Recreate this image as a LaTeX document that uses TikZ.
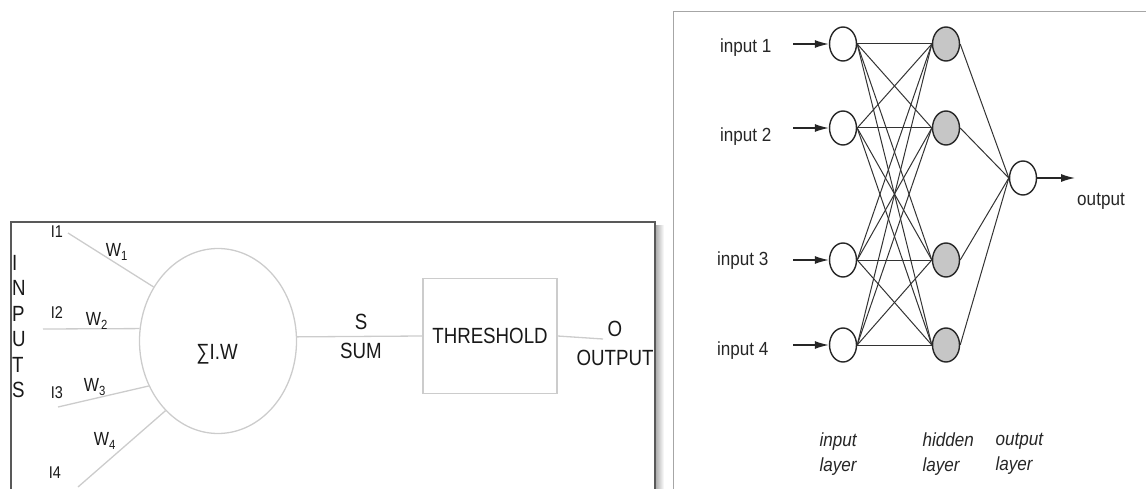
\documentclass[tikz,border=0pt]{standalone}
\usepackage{fontspec}
\setmainfont{Liberation Sans}
\newfontfamily\flatsans[FakeStretch=0.85]{Liberation Sans}
\newfontfamily\netsans[FakeStretch=0.9]{Liberation Sans}
\usetikzlibrary{arrows.meta, shapes.geometric}

\begin{document}
\begin{tikzpicture}[
	x=1pt, y=-1pt,
	faint/.style={draw=gray!40, line width=1.3pt},
	big/.style={font=\flatsans\fontsize{22}{29}\selectfont, text=black!90},
	small/.style={font=\flatsans\fontsize{17}{20}\selectfont, text=black!90},
	wlabel/.style={font=\flatsans\fontsize{19}{20}\selectfont, text=black!90},
	neuron/.style={
		draw=black!85,
		ellipse,
		line width=1.4pt,
		minimum width=27pt,
		minimum height=34pt,
		inner sep=0pt,
		fill=white
	},
	hid/.style={
		neuron,
		fill=gray!45
	},
	link/.style={draw=black!80, line width=1pt},
	feed/.style={draw=black!85, line width=1.3pt, -{Latex[length=14pt,width=8pt]}},
	net/.style={font=\netsans\fontsize{19}{22}\selectfont, text=black!85},
	layer/.style={font=\netsans\itshape\fontsize{19}{25}\selectfont, text=black!85, align=left, anchor=west}
	]
	\useasboundingbox (0,0) rectangle (1146,489);

	% single neuron: frame with drop shadow on the right
	\shade[left color=gray!70, right color=white] (655,226) rectangle (664,500);
	\draw[gray!70!black, line width=1.5pt] (11,500) |- (655,222) -- (655,500);

	% vertical INPUTS caption
	\node[font=\flatsans\fontsize{22}{25.5}\selectfont, text=black!90, align=left, anchor=north west, inner sep=0pt] (caption) at (12,255) {I\\N\\P\\U\\T\\S};

	% summing unit and threshold box
	\node[faint, ellipse, minimum width=157pt, minimum height=185pt, inner sep=0pt] (sum) at (218,341) {};
	\node[big] (sumtxt) at (217,354) {∑I.W};
	\node[faint, big, minimum width=134pt, minimum height=115pt] (thr) at (490,336) {THRESHOLD};

	% weighted inputs
	\node[small] (l1) at (57,232) {I1};
	\node[small] (l2) at (57,313) {I2};
	\node[small] (l3) at (57,393) {I3};
	\node[small] (l4) at (55,473) {I4};
	\coordinate (i1) at (68,233);
	\coordinate (i2) at (43,329);
	\coordinate (i3) at (58,407);
	\coordinate (i4) at (78,487);
	\draw[faint] (i1) -- (sum.140);
	\draw[faint] (i2) -- (sum.171);
	\draw[faint] (i3) -- (sum.213);
	\draw[faint] (i4) -- (sum.233);
	\node[wlabel] (w1) at (117,252) {W\textsubscript{1}};
	\node[wlabel] (w2) at (97,321) {W\textsubscript{2}};
	\node[wlabel] (w3) at (95,387) {W\textsubscript{3}};
	\node[wlabel] (w4) at (105,441) {W\textsubscript{4}};

	% sum -> threshold -> output
	\draw[faint] (sum.3) -- (thr.west);
	\node[big, align=center] (sumlbl) at (361,336) {S\\SUM};
	\coordinate (oend) at (603,339);
	\draw[faint] (thr.east) -- (oend);
	\node[big, align=center] (outlbl) at (615,343) {O\\OUTPUT};

	% multilayer network frame
	\draw[gray!70, line width=1pt] (673,500) |- (1160,12);

	% input and hidden units, one row each
	\foreach \k/\yy in {1/44, 2/128, 3/260, 4/345} {
		\node[neuron] (in\k) at (843,\yy) {};
		\node[hid] (hd\k) at (946,\yy) {};
		\coordinate (feed\k) at (793,\yy);
		\draw[feed] (feed\k) -- (in\k.west);
	}
	\node[neuron] (out) at (1023,178) {};

	% fully connected layers
	\foreach \i in {1,...,4}
		\foreach \j in {1,...,4}
			\draw[link] (in\i.east) -- (hd\j.west);
	\foreach \j in {1,...,4}
		\draw[link] (hd\j.east) -- (out.west);

	\coordinate (outtip) at (1075,178);
	\draw[feed] (out.east) -- (outtip);

	% labels
	\foreach \k/\lx/\ly in {1/775/48, 2/775/137, 3/772/261, 4/772/351}
		\node[net, anchor=east] (inlbl\k) at (\lx,\ly) {input \k};
	\node[net] (outname) at (1101,201) {output};
	\node[layer] (lyin) at (816,454) {input\\layer};
	\node[layer] (lyhid) at (919,454) {hidden\\layer};
	\node[layer] (lyout) at (992,454) {output\\layer};
\end{tikzpicture}
\end{document}
